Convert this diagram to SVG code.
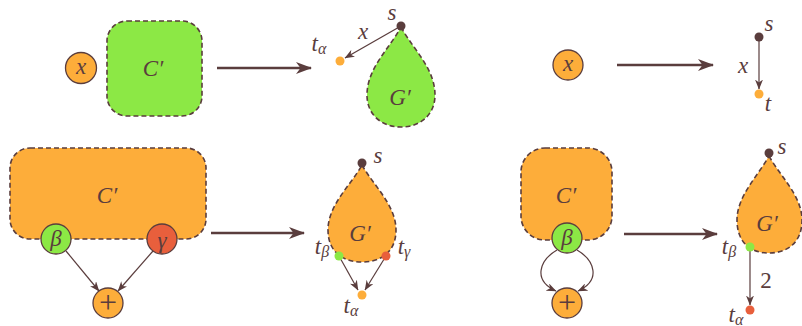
<svg xmlns="http://www.w3.org/2000/svg" width="802" height="326" viewBox="0 0 802 326">
<defs>
<style>
.t{font-family:"Liberation Serif","DejaVu Serif",serif;font-style:italic;font-size:23px;fill:#5a3d3d;text-anchor:middle;dominant-baseline:central}
.sub{font-size:16px}
.up{font-style:normal}
.plus{font-style:normal;font-size:32px}
.box{stroke:#5a3d3d;stroke-width:1.6;stroke-dasharray:5,3}
.node{stroke:#5a3d3d;stroke-width:1.3}
.big{stroke:#5a3d3d;stroke-width:2.6;fill:none}
.thin{stroke:#5a3d3d;stroke-width:1.2;fill:none}
.green{fill:#8ce845}
.orange{fill:#fdad3a}
.red{fill:#e85f3c}
.dark{fill:#5a3d3d}
</style>
<marker id="ab" viewBox="0 0 16 12" refX="15" refY="6" markerWidth="16" markerHeight="12" markerUnits="userSpaceOnUse" orient="auto">
<path d="M0,0 L16,6 L0,12 L4.5,6 Z" fill="#5a3d3d"/>
</marker>
<marker id="as" viewBox="0 0 10 8" refX="9.5" refY="4" markerWidth="10" markerHeight="8" markerUnits="userSpaceOnUse" orient="auto">
<path d="M0,0 L10,4 L0,8 L3,4 Z" fill="#5a3d3d"/>
</marker>
</defs>

<g id="connectors">
<line class="big" x1="217" y1="68" x2="311" y2="68" marker-end="url(#ab)"/>
<line class="big" x1="617" y1="65" x2="713" y2="65" marker-end="url(#ab)"/>
<line class="big" x1="211" y1="233" x2="304" y2="233" marker-end="url(#ab)"/>
<line class="big" x1="624" y1="234" x2="717" y2="234" marker-end="url(#ab)"/>
<line class="thin" x1="401" y1="26" x2="345" y2="58" marker-end="url(#as)"/>
<line class="thin" x1="759" y1="37" x2="759" y2="89" marker-end="url(#as)"/>
<line class="thin" x1="66" y1="251" x2="99" y2="291" marker-end="url(#as)"/>
<line class="thin" x1="153" y1="251" x2="118" y2="291" marker-end="url(#as)"/>
<path class="thin" d="M557,250 C540,260 532,280 556,291" marker-end="url(#as)"/>
<path class="thin" d="M577,250 C594,260 602,280 578,291" marker-end="url(#as)"/>
<line class="thin" x1="339" y1="256" x2="358" y2="290" marker-end="url(#as)"/>
<line class="thin" x1="386" y1="256" x2="365" y2="290" marker-end="url(#as)"/>
<line class="thin" x1="750" y1="247" x2="750" y2="305" marker-end="url(#as)"/>
</g>

<g id="top-left-x">
<circle class="node orange" cx="81" cy="68" r="15.5"/>
<text class="t" x="81" y="66">x</text>
</g>
<g id="top-left-C">
<rect class="box green" x="107" y="21" width="95" height="95" rx="20"/>
<text class="t" x="153" y="68">C′</text>
</g>

<g id="top-G">
<path class="box green" d="M401,27 C412,48 435,68 435,95 C435,115 420,127 401,127 C382,127 367,115 367,95 C367,68 390,48 401,27 Z"/>
<text class="t" x="400" y="97">G′</text>
<circle class="dark" cx="401" cy="26" r="4.5"/>
<text class="t" x="392" y="12">s</text>
<circle class="orange" cx="340" cy="61" r="4.5"/>
<text class="t" x="319" y="43">t<tspan class="sub" dy="5">α</tspan></text>
<text class="t" x="363" y="31">x</text>
</g>

<g id="top-right-x">
<circle class="node orange" cx="568" cy="65" r="15"/>
<text class="t" x="568" y="63">x</text>
</g>
<g id="top-right-edge">
<circle class="dark" cx="759" cy="37" r="4.5"/>
<text class="t" x="769" y="23">s</text>
<circle class="orange" cx="759" cy="94" r="4.5"/>
<text class="t" x="768" y="103">t</text>
<text class="t" x="743" y="65">x</text>
</g>

<g id="bottom-left-C">
<rect class="box orange" x="10" y="148" width="196" height="91" rx="20"/>
<text class="t" x="107" y="195">C′</text>
</g>
<g id="bottom-left-beta">
<circle class="node green" cx="56" cy="239" r="15"/>
<text class="t" x="56" y="238">β</text>
</g>
<g id="bottom-left-gamma">
<circle class="node red" cx="162" cy="239" r="15"/>
<text class="t" x="162" y="240">γ</text>
</g>
<g id="bottom-left-plus">
<circle class="node orange" cx="108" cy="303" r="15"/>
<text class="t plus" x="108" y="302">+</text>
</g>

<g id="bottom-G">
<path class="box orange" d="M362,165 C373,185 396,205 396,230 C396,252 381,262 362,262 C343,262 328,252 328,230 C328,205 351,185 362,165 Z"/>
<text class="t" x="360" y="233">G′</text>
<circle class="dark" cx="362" cy="163" r="4.5"/>
<text class="t" x="378" y="155">s</text>
<circle class="green" cx="339" cy="256" r="4.5"/>
<circle class="red" cx="386" cy="256" r="4.5"/>
<circle class="orange" cx="362" cy="295" r="4.5"/>
<text class="t" x="322" y="246">t<tspan class="sub" dy="5">β</tspan></text>
<text class="t" x="404" y="246">t<tspan class="sub" dy="5">γ</tspan></text>
<text class="t" x="351" y="305">t<tspan class="sub" dy="5">α</tspan></text>
</g>

<g id="bottom-right-C">
<rect class="box orange" x="521" y="148" width="91" height="92" rx="24"/>
<text class="t" x="566" y="195">C′</text>
</g>
<g id="bottom-right-beta">
<circle class="node green" cx="567" cy="238" r="15"/>
<text class="t" x="567" y="237">β</text>
</g>
<g id="bottom-right-plus">
<circle class="node orange" cx="567" cy="303" r="15"/>
<text class="t plus" x="567" y="302">+</text>
</g>

<g id="bottom-right-G">
<path class="box orange" d="M769,156 C780,176 802,196 802,220 C802,242 788,253 769,253 C750,253 737,242 737,220 C737,196 758,176 769,156 Z"/>
<text class="t" x="767" y="223">G′</text>
<circle class="dark" cx="769" cy="153" r="4.5"/>
<text class="t" x="782" y="146">s</text>
<circle class="green" cx="750" cy="247" r="4.5"/>
<circle class="red" cx="750" cy="310" r="4.5"/>
<text class="t" x="729" y="246">t<tspan class="sub" dy="5">β</tspan></text>
<text class="t up" x="766" y="280">2</text>
<text class="t" x="736" y="314">t<tspan class="sub" dy="5">α</tspan></text>
</g>
</svg>
